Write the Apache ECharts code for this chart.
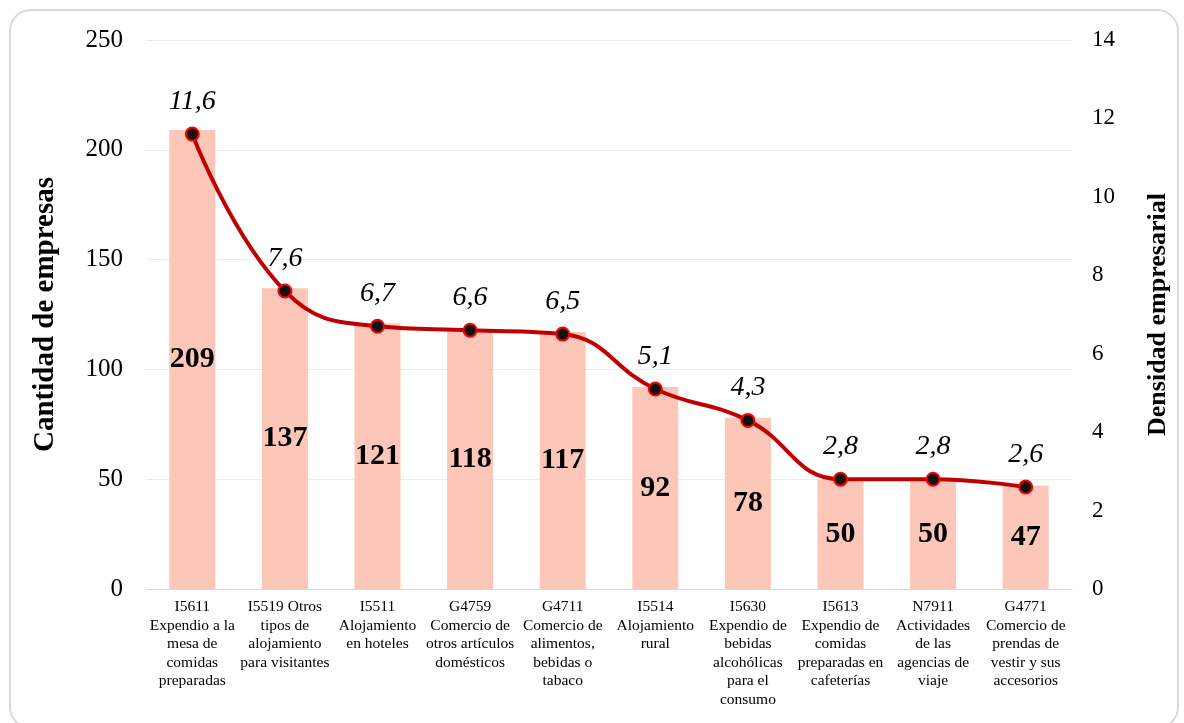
<!DOCTYPE html>
<html>
<head>
<meta charset="utf-8">
<script src="https://cdn.jsdelivr.net/npm/echarts@6/dist/echarts.min.js"></script>
<style>
  body { margin: 0; background: #ffffff; }
  #frame {
    position: absolute; left: 9px; top: 9px; width: 1170px; height: 720px;
    border: 2px solid #d9d9d9; border-radius: 22px; box-sizing: border-box;
  }
  #chart { position: absolute; left: 0; top: 0; width: 1184px; height: 723px; }
</style>
</head>
<body>
<div id="frame"></div>
<div id="chart"></div>
<script>
var categories = [
  'I5611\nExpendio a la\nmesa de\ncomidas\npreparadas',
  'I5519 Otros\ntipos de\nalojamiento\npara visitantes',
  'I5511\nAlojamiento\nen hoteles',
  'G4759\nComercio de\notros artículos\ndomésticos',
  'G4711\nComercio de\nalimentos,\nbebidas o\ntabaco',
  'I5514\nAlojamiento\nrural',
  'I5630\nExpendio de\nbebidas\nalcohólicas\npara el\nconsumo',
  'I5613\nExpendio de\ncomidas\npreparadas en\ncafeterías',
  'N7911\nActividades\nde las\nagencias de\nviaje',
  'G4771\nComercio de\nprendas de\nvestir y sus\naccesorios'
]
var empresas = [209, 137, 121, 118, 117, 92, 78, 50, 50, 47]
var densidad = [11.6, 7.6, 6.7, 6.6, 6.5, 5.1, 4.3, 2.8, 2.8, 2.6]

var font = "'Liberation Serif', 'Times New Roman', serif"
var myChart = echarts.init(document.getElementById('chart'))

var option = {
  animation: false,
  textStyle: { fontFamily: font },
  grid: { left: 146, right: 112, top: 40, bottom: 134, containLabel: false },
  xAxis: {
    type: 'category',
    data: categories,
    axisTick: { show: false },
    axisLine: { lineStyle: { color: '#d9d9d9' } },
    axisLabel: {
      interval: 0, color: '#000', fontFamily: font, fontSize: 15.5,
      lineHeight: 18.5, margin: 9
    }
  },
  yAxis: [
    {
      type: 'value', min: 0, max: 250, interval: 50,
      name: 'Cantidad de empresas', nameLocation: 'middle', nameGap: 86,
      nameTextStyle: { fontFamily: font, fontSize: 29, fontWeight: 'bold', color: '#000' },
      axisLabel: { color: '#000', fontFamily: font, fontSize: 25, margin: 23 },
      axisLine: { show: false }, axisTick: { show: false },
      splitLine: { lineStyle: { color: '#ececec', width: 1 } }
    },
    {
      type: 'value', min: 0, max: 14, interval: 2,
      name: 'Densidad empresarial', nameLocation: 'middle', nameGap: 73, nameRotate: 90,
      nameTextStyle: { fontFamily: font, fontSize: 26, fontWeight: 'bold', color: '#000' },
      axisLabel: { color: '#000', fontFamily: font, fontSize: 23, margin: 20 },
      axisLine: { show: false }, axisTick: { show: false },
      splitLine: { show: false }
    }
  ],
  series: [
    {
      name: 'Cantidad de empresas',
      type: 'bar',
      data: empresas,
      barWidth: 46,
      itemStyle: { color: '#fcc6b9' },
      label: {
        show: true, position: 'inside', color: '#000',
        fontFamily: font, fontSize: 30, fontWeight: 'bold'
      }
    },
    {
      name: 'Densidad empresarial',
      type: 'line',
      yAxisIndex: 1,
      data: densidad,
      smooth: 0.45,
      symbol: 'circle',
      symbolSize: 13,
      lineStyle: { color: '#c00000', width: 4 },
      itemStyle: { color: '#111', borderColor: '#ff0000', borderWidth: 2 },
      label: {
        show: true, position: 'top', distance: 11, color: '#000',
        fontFamily: font, fontSize: 28, fontStyle: 'italic',
        formatter: function (p) { return String(p.value).replace('.', ',') }
      },
      z: 5
    }
  ]
}

myChart.setOption(option)
</script>
</body>
</html>
